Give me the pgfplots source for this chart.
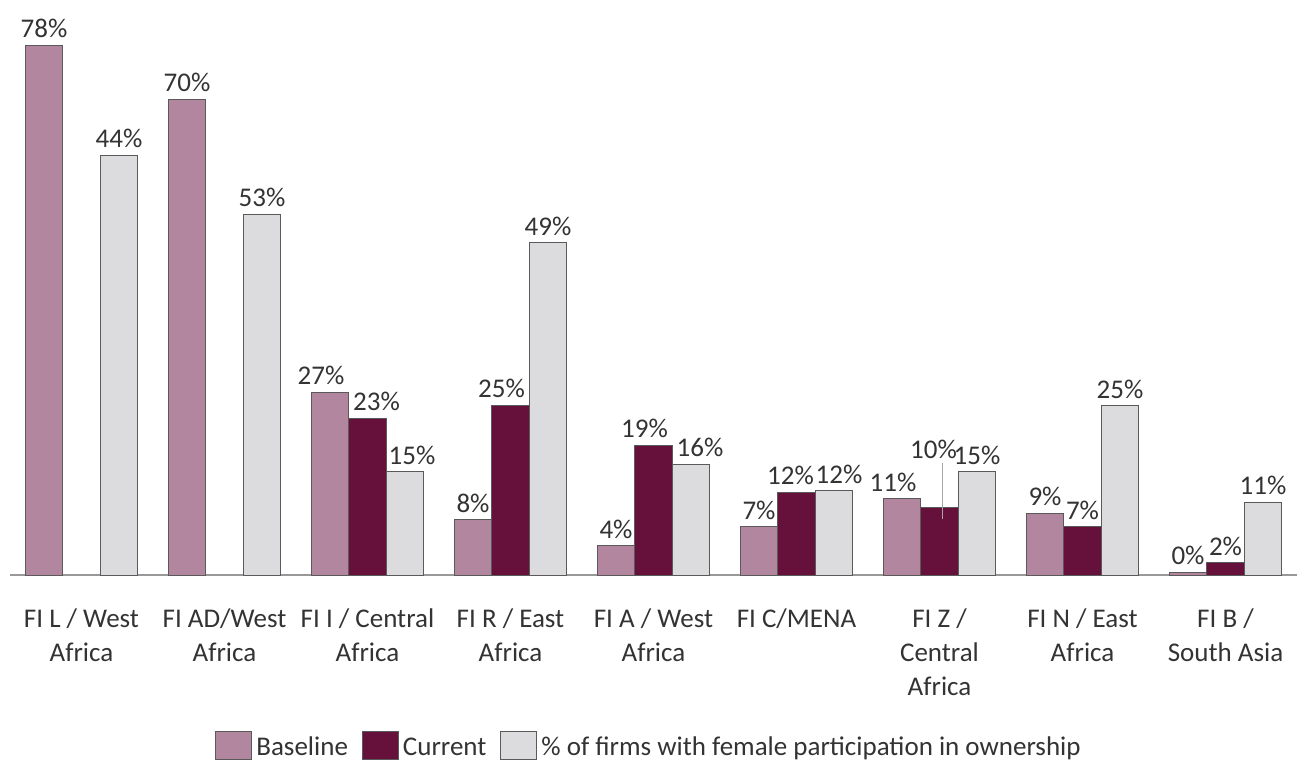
\documentclass[border=0pt]{standalone}
\usepackage{pgfplots}
\pgfplotsset{compat=1.18}
\usepackage{fontspec}
\setmainfont{Carlito}
\definecolor{basec}{HTML}{B3869F}
\definecolor{curc}{HTML}{66103C}
\definecolor{firmc}{HTML}{DCDCDE}
\definecolor{edgec}{HTML}{5A5A5A}
\definecolor{txtc}{HTML}{333333}

% x: group index, y: bar height, lab: printed label, dx/dy: label nudge (pt)
\pgfplotstableread{
x y lab dx dy
0 78.0 78 0 0
1 70.0 70 0 0
2 26.9 27 -4.5 0
3 8.1 8 0 0
4 4.3 4 0 0
5 7.1 7 0 0
6 11.2 11 -4.5 0
7 9.1 9 0 0
8 0.4 0 0 0
}\baseline
\pgfplotstableread{
x y lab dx dy
2 23.1 23 4.5 0
3 25.0 25 -4.5 0
4 19.1 19 -4.5 0
5 12.2 12 -3 0
6 10.0 10 -3 20.5
7 7.1 7 0 0
8 1.8 2 0 0
}\current
\pgfplotstableread{
x y lab dx dy
0 61.8 44 0 0
1 53.1 53 0 0
2 15.2 15 3.5 0
3 48.9 49 0 0
4 16.3 16 4.5 0
5 12.4 12 2.5 0
6 15.2 15 0 0
7 24.9 25 0 0
8 10.7 11 0 0
}\firms

\begin{document}
\begin{tikzpicture}
\useasboundingbox (0,0) rectangle (649.5pt,386pt);
\begin{axis}[
    at={(5pt,98.5pt)}, anchor=south west,
    scale only axis,
    width=643.5pt, height=271.8pt,
    ymin=0, ymax=80,
    xmin=-0.5, xmax=8.5,
    axis x line=bottom,
    axis y line=none,
    axis line style={-, draw=black!40, line width=0.8pt},
    xtick={0,...,8},
    major tick length=0pt,
    xticklabels={FI L / West\\Africa, FI AD/West\\Africa, FI I / Central\\Africa,
        FI R / East\\Africa, FI A / West\\Africa, FI C/MENA,
        FI Z /\\Central\\Africa, FI N / East\\Africa, FI B /\\South Asia},
    xticklabel style={align=center, font=\fontsize{13.5}{17}\selectfont, text=txtc, yshift=-13.5pt},
    ybar, bar width=0.26,
    clip=false,
    point meta=explicit symbolic,
    nodes near coords={\pgfplotspointmeta\%},
    visualization depends on={\thisrow{dx} \as \dx},
    visualization depends on={\thisrow{dy} \as \dy},
    every node near coord/.append style={font=\fontsize{13.5}{15}\selectfont, text=txtc,
        xshift=\dx pt, yshift=\dy pt},
    legend style={draw=none, at={(0.4973,-0.3164)}, anchor=center,
        legend columns=-1, font=\fontsize{13.5}{15}\selectfont, text=txtc,
        /tikz/every even column/.append style={column sep=5pt}},
    legend image code/.code={\draw[#1] (0pt,-6pt) rectangle (18pt,8pt);},
]
\addplot[fill=basec, draw=edgec, line width=0.5pt, bar shift=-0.262]
    table[x=x, y=y, meta=lab] {\baseline};
\addlegendentry{Baseline}
\addplot[fill=curc, draw=edgec, line width=0.5pt, bar shift=0]
    table[x=x, y=y, meta=lab] {\current};
\addlegendentry{Current}
\addplot[fill=firmc, draw=edgec, line width=0.5pt, bar shift=0.262]
    table[x=x, y=y, meta=lab] {\firms};
\addlegendentry{\% of firms with female participation in ownership}
\draw[black!35, line width=0.7pt] (axis cs:6.02,16.5) -- (axis cs:6.02,8.2);
\end{axis}
\end{tikzpicture}
\end{document}
